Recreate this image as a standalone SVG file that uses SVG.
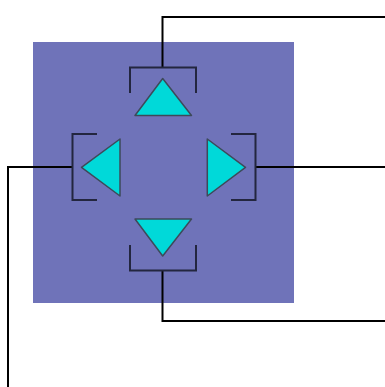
<svg xmlns="http://www.w3.org/2000/svg" width="385" height="387" viewBox="0 0 385 387">
<style>
.tri{fill:#00d9d9;stroke:#3d4a5a;stroke-width:1.5;stroke-linejoin:round}
.br{fill:none;stroke:#23263f;stroke-width:2}
.ln{fill:none;stroke:#000;stroke-width:2}
</style>
<rect id="pad" x="33" y="42" width="261" height="261" fill="#6f73b9"/>
<g id="connectors">
<polyline class="ln" points="162.5,67 162.5,17 385,17"/>
<polyline class="ln" points="72,167 8,167 8,387"/>
<polyline class="ln" points="256,167 385,167"/>
<polyline class="ln" points="162.5,271 162.5,321 385,321"/>
</g>
<g id="up">
<polyline class="br" points="130,93 130,67.5 196,67.5 196,93"/>
<polygon class="tri" points="162.7,78.5 191.5,115.5 135,115.5"/>
</g>
<g id="left">
<polyline class="br" points="97,134 72.5,134 72.5,200 97,200"/>
<polygon class="tri" points="81.5,167.3 120,139 120,196"/>
</g>
<g id="right">
<polyline class="br" points="231,134 255.5,134 255.5,200 231,200"/>
<polygon class="tri" points="245.5,167.3 207.3,139 207.3,196"/>
</g>
<g id="down">
<polyline class="br" points="130,245 130,270.5 196,270.5 196,245"/>
<polygon class="tri" points="135,219 191.5,219 162.7,256"/>
</g>
</svg>
